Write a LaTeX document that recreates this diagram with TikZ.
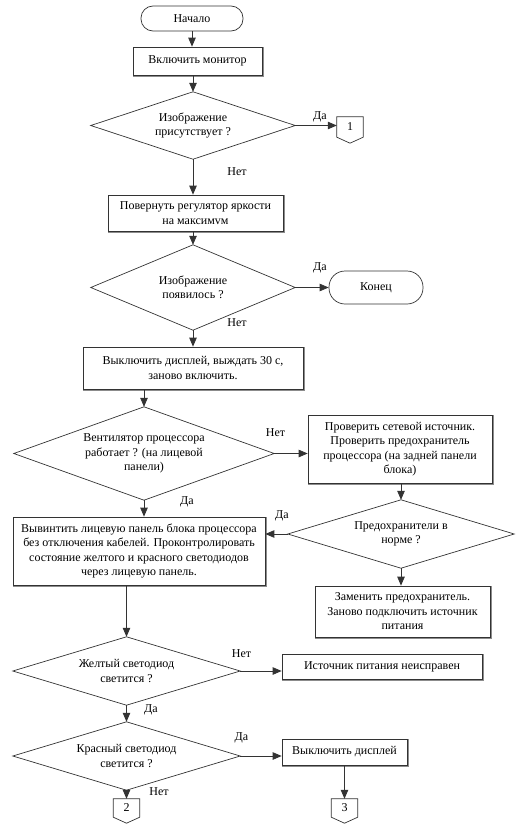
\documentclass[tikz,border=0pt]{standalone}
\usepackage{fontspec}
\setmainfont{Liberation Serif}
\newfontfamily\tnr{Liberation Serif}
\usetikzlibrary{arrows.meta}
\begin{document}
\begin{tikzpicture}[x=1pt,y=-1pt,
  every node/.style={font=\tnr\fontsize{12}{14.5}\selectfont},
  box/.style={draw=black!80, line width=0.7pt, fill=white, align=center, inner sep=2pt},
  term/.style={draw=black!80, line width=0.7pt, fill=white, align=center, inner sep=2pt},
  dia/.style={align=center, inner sep=0pt},
  conn/.style={inner sep=0pt, minimum width=26pt},
  lbl/.style={inner sep=0pt},
  arr/.style={-{Triangle[length=9pt,width=7.5pt]}, line width=0.8pt, draw=black!80},
  outl/.style={line width=0.7pt, draw=black!80},
  shad/.style={line width=1.1pt, draw=black!45}
]
\useasboundingbox (0,0) rectangle (532,827);

% terminators
\node[term, minimum width=102pt, minimum height=25pt, rounded corners=12pt] (start) at (192,18.5) {Начало};
\node[term, minimum width=94pt, minimum height=33pt, rounded corners=16pt] (end) at (376,287.5) {Конец};

% process boxes
\node[box, minimum width=129pt, minimum height=28pt] (b1) at (197.5,61) {Включить монитор};
\node[box, minimum width=175pt, minimum height=36pt] (b2) at (195.5,213) {Повернуть регулятор яркости\\на максимvм};
\node[box, minimum width=220pt, minimum height=42pt] (b3) at (193,368) {Выключить дисплей, выждать 30 с,\\заново включить.};
\node[box, minimum width=184pt, minimum height=68pt] (b4) at (400,449) {Проверить сетевой источник.\\Проверить предохранитель\\процессора (на задней панели\\блока)};
\node[box, minimum width=252pt, minimum height=68pt] (b5) at (139,551) {Вывинтить лицевую панель блока процессора\\без отключения кабелей. Проконтролировать\\состояние желтого и красного светодиодов\\через лицевую панель.};
\node[box, minimum width=175pt, minimum height=51pt] (b6) at (402.5,611.5) {Заменить предохранитель.\\Заново подключить источник\\питания};
\node[box, minimum width=200pt, minimum height=25pt] (b7) at (382,666.5) {Источник питания неисправен};
\node[box, minimum width=125pt, minimum height=26pt] (b8) at (344.5,752) {Выключить дисплей};

\foreach \n in {b1,b2,b3,b4,b5,b6,b7,b8}
  \draw[shad] ([xshift=0.9pt,yshift=-0.5pt]\n.north east) -- ([xshift=0.9pt,yshift=-0.9pt]\n.south east) -- ([xshift=0.5pt,yshift=-0.9pt]\n.south west);

% decisions
\node[dia, minimum width=204pt, minimum height=67pt] (d1) at (193,125.5) {Изображение\\присутствует ?};
\node[dia, minimum width=204pt, minimum height=85pt] (d2) at (193,287.5) {Изображение\\появилось ?};
\node[dia, minimum width=260pt, minimum height=93pt] (d3) at (144,453.5) {Вентилятор процессора\\работает ? (на лицевой\\панели)};
\node[dia, minimum width=226pt, minimum height=68pt] (d4) at (401,534) {Предохранители в\\норме ?};
\node[dia, minimum width=227pt, minimum height=68pt] (d5) at (126.5,671) {Желтый светодиод\\светится ?};
\node[dia, minimum width=227pt, minimum height=68pt] (d6) at (126.5,756) {Красный светодиод\\светится ?};
\foreach \n in {d1,d2,d3,d4,d5,d6}
  \draw[outl] (\n.north) -- (\n.east) -- (\n.south) -- (\n.west) -- cycle;

% off-page connectors
\node[conn, minimum height=20pt] (c1) at (350,127) {1};
\node[conn, minimum height=18pt] (c2) at (126.5,808) {2};
\node[conn, minimum height=18pt] (c3) at (344.5,808) {3};
\foreach \n in {c1,c2,c3}
  \draw[outl] (\n.north west) -- (\n.north east) -- (\n.south east) -- ([yshift=-6pt]\n.south) -- (\n.south west) -- cycle;

% connectors
\draw[arr] (start.south) -- (start.south |- b1.north);
\draw[arr] (d1.north |- b1.south) -- (d1.north);
\draw[arr] (d1.east) -- (d1.east -| c1.west);
\draw[arr] (d1.south) -- (d1.south |- b2.north);
\draw[arr] (d2.north |- b2.south) -- (d2.north);
\draw[arr] (d2.east) -- (d2.east -| end.west);
\draw[arr] (d2.south) -- (d2.south |- b3.north);
\draw[arr] (d3.north |- b3.south) -- (d3.north);
\draw[arr] (d3.east) -- (d3.east -| b4.west);
\draw[arr] (d4.north |- b4.south) -- (d4.north);
\draw[arr] (d4.west) -- (d4.west -| b5.east);
\draw[arr] (d3.south) -- (d3.south |- b5.north);
\draw[arr] (d4.south) -- (d4.south |- b6.north);
\draw[arr] (d5.north |- b5.south) -- (d5.north);
\draw[arr] (d5.east) -- (d5.east -| b7.west);
\draw[arr] (d5.south) -- (d6.north);
\draw[arr] (d6.east) -- (d6.east -| b8.west);
\draw[arr] (b8.south) -- (b8.south |- c3.north);
\draw[arr] (d6.south) -- (d6.south |- c2.north);

% labels
\node[lbl] (l1) at (320,117) {Да};
\node[lbl] (l2) at (237,172) {Нет};
\node[lbl] (l3) at (320,268) {Да};
\node[lbl] (l4) at (237,323) {Нет};
\node[lbl] (l5) at (275.5,433) {Нет};
\node[lbl] (l6) at (187,502) {Да};
\node[lbl] (l7) at (282,516) {Да};
\node[lbl] (l8) at (241.5,654) {Нет};
\node[lbl] (l9) at (151,709.5) {Да};
\node[lbl] (l10) at (241.5,738) {Да};
\node[lbl] (l11) at (159,792) {Нет};
\end{tikzpicture}
\end{document}
